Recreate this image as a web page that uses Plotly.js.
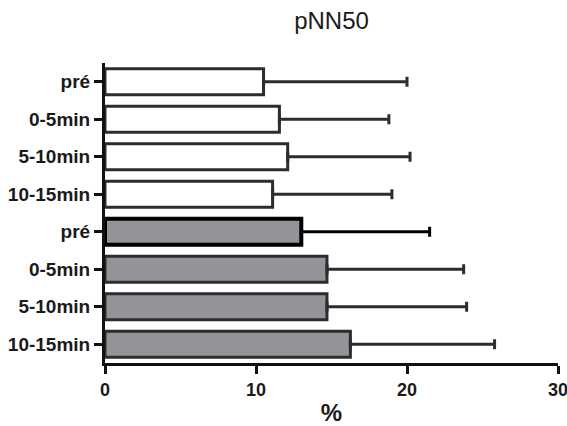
<!DOCTYPE html>
<html>
<head>
<meta charset="utf-8">
<script src="https://cdn.plot.ly/plotly-3.0.1.min.js"></script>
<style>html,body{margin:0;padding:0;background:#fff;}#chart{width:567px;height:426px;}</style>
</head>
<body>
<div id="chart"></div>
<script>
// Data
const labels = ["pré", "0-5min", "5-10min", "10-15min", "pré", "0-5min", "5-10min", "10-15min"];
const means  = [10.5, 11.55, 12.1, 11.1, 13.0, 14.7, 14.7, 16.25];
const sds    = [9.5, 7.25, 8.1, 7.9, 8.5, 9.05, 9.25, 9.55];
const xTicks = [0, 10, 20, 30];
// style group per bar: 0 = white, 1 = gray with black outline, 2 = gray
const groups = [0, 0, 0, 0, 1, 2, 2, 2];

const styles = [
  {fill: "#ffffff", line: "#2b2d31", lw: 3, err: "#2b2d31"},
  {fill: "#939498", line: "#000000", lw: 4, err: "#000000"},
  {fill: "#939498", line: "#2b2d31", lw: 3, err: "#2b2d31"}
];

const positions = labels.map((_, i) => i);
const traces = styles.map((s, g) => {
  const idx = positions.filter(i => groups[i] === g);
  return {
    type: "bar",
    orientation: "h",
    y: idx.map(i => positions[i]),
    x: idx.map(i => means[i]),
    marker: {color: s.fill, line: {color: s.line, width: s.lw}},
    error_x: {
      type: "data",
      symmetric: false,
      array: idx.map(i => sds[i]),
      arrayminus: idx.map(() => 0),
      color: s.err,
      thickness: 3,
      width: 5
    },
    hoverinfo: "none",
    showlegend: false
  };
});

const FONT = "Liberation Sans, Arial, sans-serif";
const layout = {
  width: 567,
  height: 426,
  margin: {l: 105, r: 9, t: 63, b: 63},
  paper_bgcolor: "#ffffff",
  plot_bgcolor: "#ffffff",
  barmode: "overlay",
  bargap: 0.31,
  title: {
    text: "pNN50",
    font: {family: FONT, size: 24, color: "#1a1a1a"},
    x: 0.5, xref: "paper", xanchor: "center",
    y: 0.952, yref: "container", yanchor: "middle"
  },
  xaxis: {
    range: [0, 30],
    tickvals: xTicks,
    ticks: "outside",
    ticklen: 8,
    tickwidth: 3,
    tickcolor: "#111",
    showline: true,
    linewidth: 3,
    linecolor: "#111",
    showgrid: false,
    zeroline: false,
    ticklabeloverflow: "allow",
    tickfont: {family: FONT, size: 18, color: "#1a1a1a", weight: "bold"},
    title: {
      text: "%",
      font: {family: FONT, size: 24, color: "#1a1a1a", weight: "bold"},
      standoff: 14
    }
  },
  yaxis: {
    range: [7.5, -0.5],
    tickvals: positions,
    ticktext: labels,
    ticks: "outside",
    ticklen: 8,
    tickwidth: 3,
    tickcolor: "#111",
    showline: true,
    linewidth: 3,
    linecolor: "#111",
    showgrid: false,
    zeroline: false,
    tickfont: {family: FONT, size: 19, color: "#1a1a1a", weight: "bold"}
  }
};

Plotly.newPlot("chart", traces, layout, {displayModeBar: false, staticPlot: true});
</script>
</body>
</html>
